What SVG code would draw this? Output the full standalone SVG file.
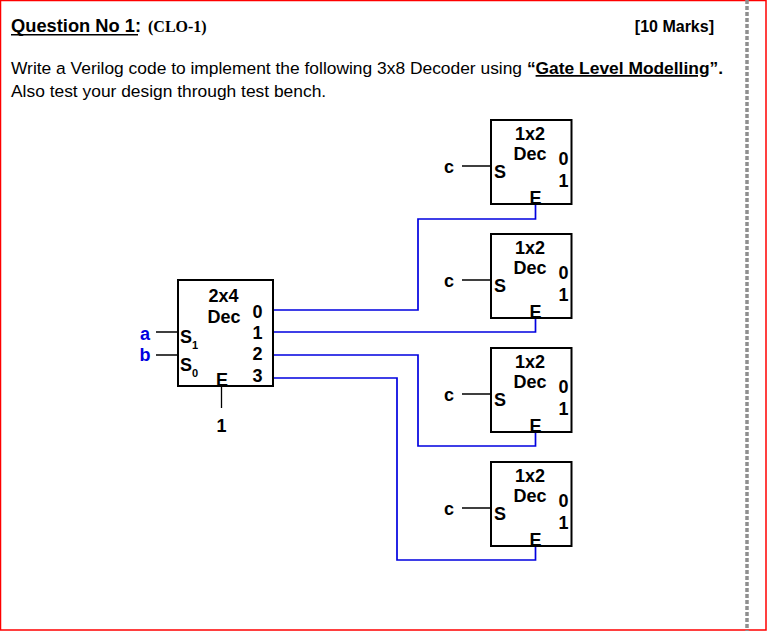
<svg xmlns="http://www.w3.org/2000/svg" width="767" height="631" viewBox="0 0 767 631">
<style>
text{font-family:"Liberation Sans",Arial,sans-serif;fill:#000}
.b{font-weight:700}
.t{font-size:17.4px}
.d{font-size:18px;font-weight:700}
.box{fill:#fff;stroke:#000;stroke-width:2}
.k{fill:none;stroke:#000;stroke-width:1.3}
.w{fill:none;stroke:#0000e0;stroke-width:1.7}
.m{text-anchor:middle}
.sub{font-size:11px;font-weight:700}
</style>
<rect width="767" height="631" fill="#fff"/>
<rect x="0.5" y="0.5" width="765.5" height="629.5" fill="none" stroke="#f00" stroke-width="1.5"/>
<line x1="747" y1="0" x2="747" y2="631" stroke="#8f8f8f" stroke-width="3.500" stroke-dasharray="4 2"/>
<text x="11" y="32" class="b" font-size="18.3">Question No 1:</text>
<line x1="11" y1="34.7" x2="138" y2="34.7" stroke="#000" stroke-width="1.6"/>
<text x="148" y="32" font-size="16" font-weight="700" style="font-family:'Liberation Serif',serif">(CLO-1)</text>
<text x="714" y="32" class="b" font-size="16" style="text-anchor:end">[10 Marks]</text>
<text x="11" y="74" class="t">Write a Verilog code to implement the following 3x8 Decoder using <tspan class="b">“<tspan text-decoration="underline">Gate Level Modelling</tspan>”.</tspan></text>
<text x="11" y="97" class="t">Also test your design through test bench.</text>

<g id="connectors">
<path class="k" d="M156 332H178M156 355H178M221.500 385V408"/>
<path class="k" d="M462 166H491M462 280H491M462 394H491M462 508H491"/>
<path class="w" d="M273 310H418V219H535.500V204"/>
<path class="w" d="M273 332H535.500V318"/>
<path class="w" d="M273 355H418V446H535.500V432"/>
<path class="w" d="M273 378H397V560H535.500V546"/>
</g>

<g id="dec2x4">
<rect class="box" x="178" y="280" width="95" height="106"/>
<text x="223.500" y="302" class="d m">2x4</text>
<text x="224" y="323" class="d m">Dec</text>
<text x="257.500" y="318" class="d m">0</text>
<text x="257.500" y="339" class="d m">1</text>
<text x="257.500" y="360" class="d m">2</text>
<text x="257.500" y="382" class="d m">3</text>
<text x="180" y="343" class="d">S</text><text x="192" y="349" class="sub">1</text>
<text x="180" y="371" class="d">S</text><text x="192" y="377" class="sub">0</text>
<text x="222" y="386" class="d m">E</text>
</g>
<text x="145" y="340" class="d m" style="fill:#0000e0">a</text>
<text x="145" y="361" class="d m" style="fill:#0000e0">b</text>
<text x="221.500" y="432" class="d m">1</text>

<g id="dec1">
<rect class="box" x="491" y="120" width="80.500" height="84"/>
<text x="530" y="140" class="d m">1x2</text><text x="530" y="160" class="d m">Dec</text>
<text x="563.500" y="165" class="d m">0</text><text x="563.500" y="187" class="d m">1</text>
<text x="500" y="178" class="d m">S</text><text x="535.500" y="204" class="d m">E</text>
</g>
<text x="449" y="173" class="d m">c</text>

<g id="dec2">
<rect class="box" x="491" y="234" width="80.500" height="84"/>
<text x="530" y="254" class="d m">1x2</text><text x="530" y="274" class="d m">Dec</text>
<text x="563.500" y="279" class="d m">0</text><text x="563.500" y="301" class="d m">1</text>
<text x="500" y="292" class="d m">S</text><text x="535.500" y="318" class="d m">E</text>
</g>
<text x="449" y="287" class="d m">c</text>

<g id="dec3">
<rect class="box" x="491" y="348" width="80.500" height="84"/>
<text x="530" y="368" class="d m">1x2</text><text x="530" y="388" class="d m">Dec</text>
<text x="563.500" y="393" class="d m">0</text><text x="563.500" y="415" class="d m">1</text>
<text x="500" y="406" class="d m">S</text><text x="535.500" y="432" class="d m">E</text>
</g>
<text x="449" y="401" class="d m">c</text>

<g id="dec4">
<rect class="box" x="491" y="462" width="80.500" height="84"/>
<text x="530" y="482" class="d m">1x2</text><text x="530" y="502" class="d m">Dec</text>
<text x="563.500" y="507" class="d m">0</text><text x="563.500" y="529" class="d m">1</text>
<text x="500" y="520" class="d m">S</text><text x="535.500" y="546" class="d m">E</text>
</g>
<text x="449" y="515" class="d m">c</text>
</svg>
